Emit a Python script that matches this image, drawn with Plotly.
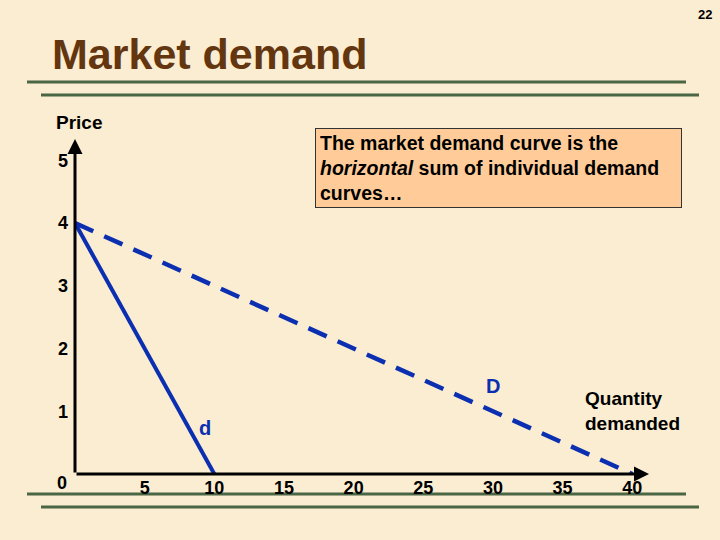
import plotly.graph_objects as go

# Data
individual_qty = [0, 10]
individual_price = [4, 0]
market_qty = [0, 40]
market_price = [4, 0]
x_ticks = [5, 10, 15, 20, 25, 30, 35, 40]
y_ticks = [1, 2, 3, 4, 5]

BG = "#FAEDD2"
BLUE = "#0B2FB0"
GREEN = "#4B6645"
FONT = "Liberation Sans, Arial, sans-serif"

X_MAX = 41.2
Y_MAX = 5.34

L, R, T, B = 75, 649, 139, 474  # plot area in pixels


def px(xp, yp):
    return (xp - L) / (R - L), (B - yp) / (B - T)


fig = go.Figure()
fig.add_trace(go.Scatter(x=individual_qty, y=individual_price, mode="lines",
                         line=dict(color=BLUE, width=4), showlegend=False, hoverinfo="skip"))
fig.add_trace(go.Scatter(x=market_qty, y=market_price, mode="lines",
                         line=dict(color=BLUE, width=4.5, dash="20px,12px"),
                         showlegend=False, hoverinfo="skip"))

fig.update_layout(
    width=720, height=540,
    paper_bgcolor=BG, plot_bgcolor=BG,
    margin=dict(l=L, r=720 - R, t=T, b=540 - B),
    font=dict(family=FONT, color="black"),
    xaxis=dict(range=[0, X_MAX], showgrid=False, zeroline=False, showline=False,
               tickvals=x_ticks, ticktext=[str(v) for v in x_ticks],
               tickfont=dict(size=18, weight="bold", color="black"), ticks="",
               ticklabelstandoff=1),
    yaxis=dict(range=[0, Y_MAX], showgrid=False, zeroline=False, showline=False,
               tickvals=y_ticks, ticktext=[str(v) for v in y_ticks],
               tickfont=dict(size=18, weight="bold", color="black"), ticks="",
               ticklabelstandoff=6),
)

ann = []
# Axis arrows
ann.append(dict(x=X_MAX, y=0, ax=0, ay=0, xref="x", yref="y", axref="x", ayref="y",
                showarrow=True, arrowhead=2, arrowsize=1, arrowwidth=3, arrowcolor="black",
                standoff=0, startstandoff=0, text=""))
ann.append(dict(x=0, y=Y_MAX, ax=0, ay=0, xref="x", yref="y", axref="x", ayref="y",
                showarrow=True, arrowhead=2, arrowsize=1, arrowwidth=3, arrowcolor="black",
                standoff=0, startstandoff=0, text=""))
# Origin label
ann.append(dict(x=0, y=0, xref="x", yref="y", text="0", showarrow=False,
                xanchor="center", yanchor="middle",
                xshift=-13, yshift=-9, font=dict(size=18, weight="bold", color="black")))
# Curve labels
dx, dy = px(205, 428)
ann.append(dict(x=dx, y=dy, xref="paper", yref="paper", text="d", showarrow=False,
                xanchor="center", yanchor="middle",
                font=dict(size=20, weight="bold", color=BLUE)))
Dx, Dy = px(493, 386)
ann.append(dict(x=Dx, y=Dy, xref="paper", yref="paper", text="D", showarrow=False,
                xanchor="center", yanchor="middle",
                font=dict(size=20, weight="bold", color=BLUE)))
# Axis titles
prx, pry = px(54, 122)
ann.append(dict(x=prx, y=pry, xref="paper", yref="paper", text="Price", showarrow=False,
                xanchor="left", yanchor="middle",
                font=dict(size=19, weight="bold", color="black")))
qx, qy = px(583, 411)
ann.append(dict(x=qx, y=qy, xref="paper", yref="paper", text="Quantity<br>demanded",
                showarrow=False, xanchor="left", yanchor="middle", align="left",
                font=dict(size=19, weight="bold", color="black")))
# Title and page number
tx, ty = px(50, 54)
ann.append(dict(x=tx, y=ty, xref="paper", yref="paper",
                text="Market demand", showarrow=False, xanchor="left", yanchor="middle",
                font=dict(size=43, weight="bold", color="#633610")))
nx, ny = px(714, 14)
ann.append(dict(x=nx, y=ny, xref="paper", yref="paper",
                text="22", showarrow=False, xanchor="right", yanchor="middle",
                font=dict(size=13, weight="bold", color="black")))
# Text box
bx, by = px(315, 128)
ann.append(dict(x=bx, y=by, xref="paper", yref="paper",
                text="The market demand curve is the<br><i>horizontal</i> sum of individual demand<br>curves…",
                showarrow=False, xanchor="left", yanchor="top", align="left",
                bgcolor="#FFCC99", bordercolor="#333333", borderwidth=1, borderpad=4,
                width=357, height=70,
                font=dict(size=19.5, weight="bold", color="black")))
fig.update_layout(annotations=ann)


# Decorative double rules
def hline(x0, x1, y):
    ax0, ay = px(x0, y)
    ax1, _ = px(x1, y)
    return dict(type="line", xref="paper", yref="paper",
                x0=ax0, x1=ax1, y0=ay, y1=ay,
                line=dict(color=GREEN, width=3), layer="below")


fig.update_layout(shapes=[hline(27, 686, 82), hline(41, 699, 95),
                          hline(27, 686, 494), hline(41, 699, 507)])

fig.write_html("out.html", config={"displayModeBar": False},
               post_script="document.body.style.margin='0';document.body.style.overflow='hidden';")
